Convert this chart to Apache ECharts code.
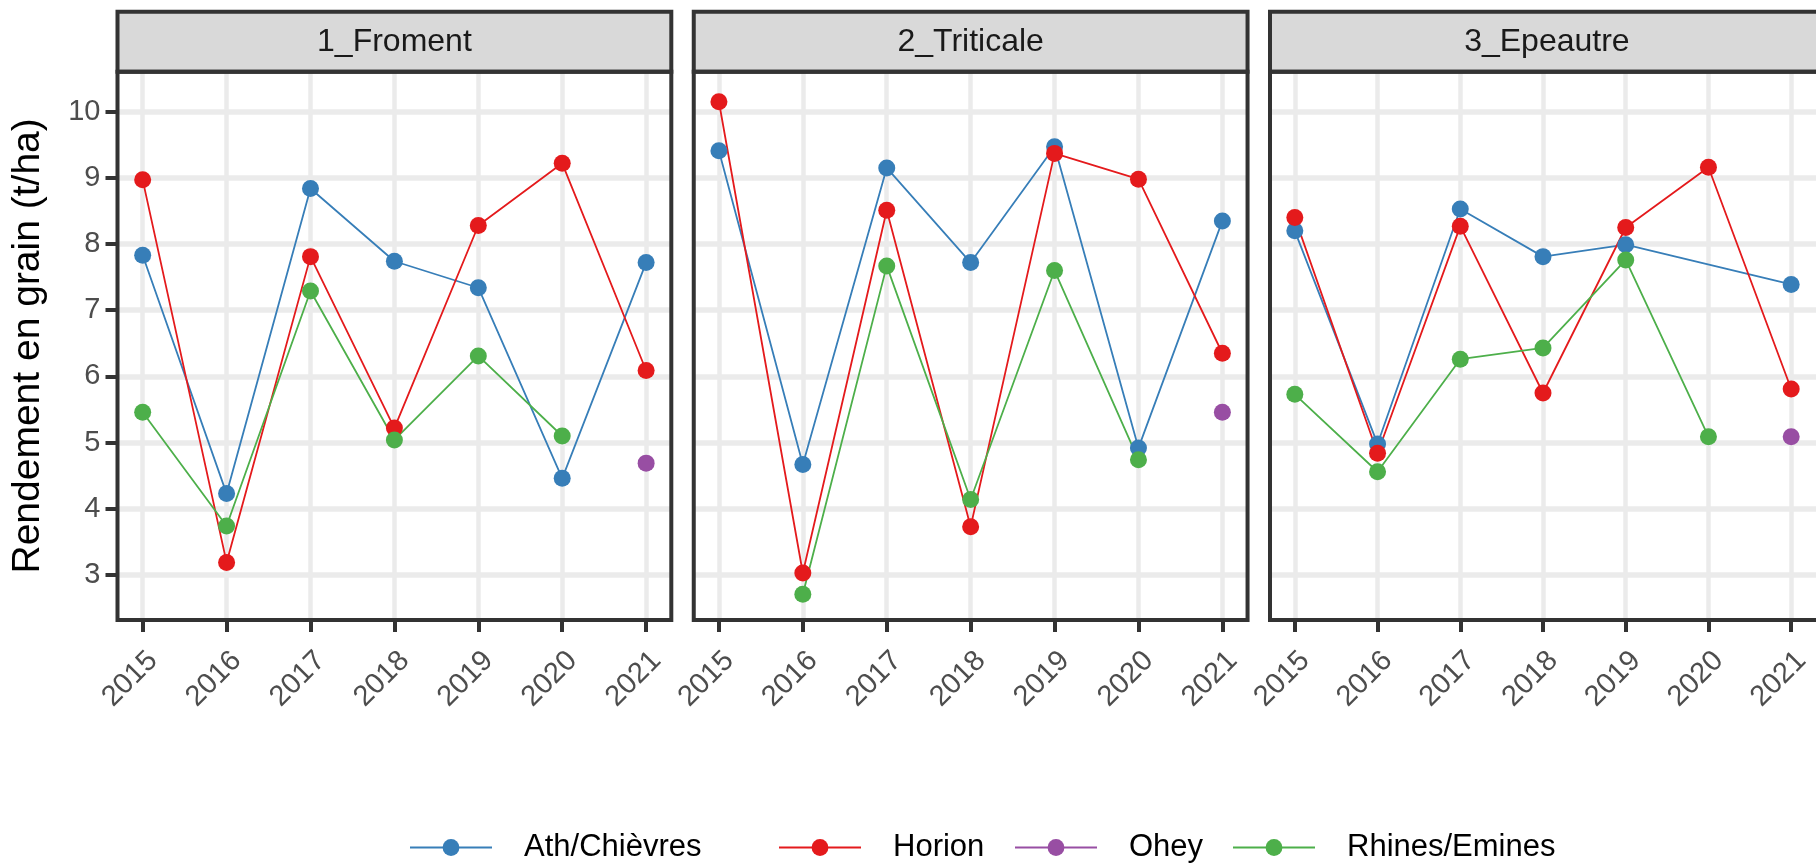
<!DOCTYPE html>
<html><head><meta charset="utf-8">
<script src="https://cdn.jsdelivr.net/npm/echarts@6/dist/echarts.min.js"></script>
<style>html,body{margin:0;padding:0;background:#fff}#c{width:1816px;height:863px}</style>
</head><body><div id="c"></div>
<script>
// ---- data ----
const years = [2015, 2016, 2017, 2018, 2019, 2020, 2021];
const yTicks = [3, 4, 5, 6, 7, 8, 9, 10];
const crops = ['1_Froment', '2_Triticale', '3_Epeautre'];
const sites = ['Ath/Chièvres', 'Horion', 'Ohey', 'Rhines/Emines'];
const siteColors = ['#377EB8', '#E41A1C', '#984EA3', '#4DAF4A'];
const yTitle = 'Rendement en grain (t/ha)';
// yields per year 2015..2021 (null = no trial)
const froment_ath      = [7.83, 4.23, 8.84, 7.74, 7.34, 4.46, 7.72];
const froment_horion   = [8.97, 3.19, 7.81, 5.22, 8.28, 9.22, 6.09];
const froment_ohey     = [null, null, null, null, null, null, 4.69];
const froment_rhines   = [5.46, 3.74, 7.29, 5.04, 6.31, 5.10, null];
const triticale_ath    = [9.41, 4.67, 9.15, 7.72, 9.47, 4.92, 8.35];
const triticale_horion = [10.15, 3.03, 8.51, 3.73, 9.37, 8.98, 6.35];
const triticale_ohey   = [null, null, null, null, null, null, 5.46];
const triticale_rhines = [null, 2.71, 7.67, 4.14, 7.60, 4.74, null];
const epeautre_ath     = [8.20, 4.98, 8.53, 7.81, 7.99, null, 7.39];
const epeautre_horion  = [8.40, 4.84, 8.27, 5.75, 8.25, 9.16, 5.81];
const epeautre_ohey    = [null, null, null, null, null, null, 5.09];
const epeautre_rhines  = [5.73, 4.56, 6.26, 6.43, 7.76, 5.09, null];

const cropData = [
  [froment_ath, froment_horion, froment_ohey, froment_rhines],
  [triticale_ath, triticale_horion, triticale_ohey, triticale_rhines],
  [epeautre_ath, epeautre_horion, epeautre_ohey, epeautre_rhines]
];

// ---- layout ----
const FONT = "'Liberation Sans', Arial, sans-serif";
const P_LEFT0 = 117.5, P_STEP = 576.25, P_W = 553.8, P_TOP = 71.7, P_H = 548.3, S_TOP = 11.7;

const grids = [], xAxes = [], yAxes = [], series = [], graphics = [];
crops.forEach((crop, i) => {
  const left = P_LEFT0 + i * P_STEP;
  grids.push({left: left, top: P_TOP, width: P_W, height: P_H, containLabel: false, show: false});
  xAxes.push({
    gridIndex: i, type: 'value', min: 2014.7, max: 2021.3, splitNumber: 6,
    axisLine: {show: false},
    axisTick: {show: true, length: 12, lineStyle: {color: '#333', width: 4}, customValues: years},
    axisLabel: {customValues: years, rotate: 45, fontSize: 29, color: '#4D4D4D', margin: 26,
      verticalAlign: 'top', fontFamily: FONT, formatter: v => String(v)},
    splitLine: {show: true, lineStyle: {color: '#EBEBEB', width: 4.5}}
  });
  yAxes.push({
    gridIndex: i, type: 'value', min: 2.32, max: 10.604, splitNumber: 8,
    axisLine: {show: false},
    axisTick: {show: i === 0, length: 12, lineStyle: {color: '#333', width: 4}, customValues: yTicks},
    axisLabel: {show: i === 0, customValues: yTicks, fontSize: 29, color: '#4D4D4D', margin: 17, fontFamily: FONT},
    splitLine: {show: true, lineStyle: {color: '#EBEBEB', width: 5.5}},
    name: i === 0 ? yTitle : '', nameLocation: 'middle', nameGap: 70, nameRotate: 90,
    nameTextStyle: {fontSize: 39, color: '#000', fontFamily: FONT}
  });
  sites.forEach((site, k) => {
    const pts = [];
    cropData[i][k].forEach((v, j) => { if (v != null) pts.push([years[j], v]); });
    series.push({
      type: 'line', name: site, xAxisIndex: i, yAxisIndex: i, data: pts,
      symbol: 'none', color: siteColors[k], lineStyle: {width: 1.8, color: siteColors[k]},
      z: 2, animation: false, silent: true
    });
  });
  sites.forEach((site, k) => {
    const pts = [];
    cropData[i][k].forEach((v, j) => { if (v != null) pts.push([years[j], v]); });
    series.push({
      type: 'scatter', name: site, xAxisIndex: i, yAxisIndex: i, data: pts,
      symbol: 'circle', symbolSize: 17, itemStyle: {color: siteColors[k], opacity: 1},
      z: 3, animation: false, silent: true
    });
  });
  // strip
  graphics.push({type: 'rect', shape: {x: left, y: S_TOP, width: P_W, height: P_TOP - S_TOP},
    style: {fill: '#D9D9D9', stroke: '#333', lineWidth: 4}, z: 100});
  graphics.push({type: 'text', x: left + P_W / 2, y: (S_TOP + P_TOP) / 2,
    style: {text: crop, font: '32px ' + FONT, fill: '#1A1A1A', textAlign: 'center', textVerticalAlign: 'middle'}, z: 101});
  // panel border
  graphics.push({type: 'rect', shape: {x: left, y: P_TOP, width: P_W, height: P_H},
    style: {fill: 'none', stroke: '#333', lineWidth: 4}, z: 100});
});

const legendLefts = [409, 778, 1014, 1232];
const legends = sites.map((s, k) => ({
  data: [s], left: legendLefts[k], top: 832, orient: 'horizontal', padding: 0,
  itemWidth: 82, itemHeight: 21, selectedMode: false,
  textStyle: {fontSize: 31, color: '#000', fontFamily: FONT, padding: [0, 0, 0, 27]}
}));

const chart = echarts.init(document.getElementById('c'), null, {renderer: 'canvas'});
chart.setOption({
  backgroundColor: '#fff', animation: false,
  grid: grids, xAxis: xAxes, yAxis: yAxes, series: series,
  legend: legends, graphic: graphics
});
</script></body></html>
